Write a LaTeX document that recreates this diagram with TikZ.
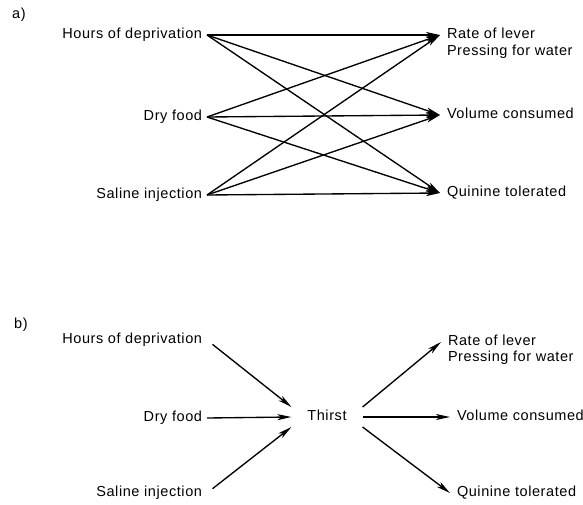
\documentclass[tikz,border=0pt]{standalone}
\usepackage{fontspec}
\setmainfont{Liberation Sans}[LetterSpace=4]
\usetikzlibrary{arrows.meta}
\tikzstyle{cause}=[anchor=east,inner sep=3pt,outer sep=2pt,text height=10.5pt,text depth=3pt]
\tikzstyle{effect}=[anchor=west,inner sep=3pt,outer sep=4pt,text height=10.5pt,text depth=3pt]
\tikzstyle{hub}=[inner xsep=3pt,inner ysep=3pt,minimum height=20pt,outer xsep=13pt,outer ysep=0pt,text height=10.5pt,text depth=3pt]
\tikzstyle{tag}=[anchor=west,inner sep=0pt]
\tikzstyle{link} = [draw,line width=1.35pt,-{Stealth[length=14pt,width=6pt,inset=3.5pt]}]

\begin{document}
\begin{tikzpicture}[x=1pt,y=-1pt,font=\fontsize{14.5}{17}\selectfont]
    \useasboundingbox (0,0) rectangle (583,505);
    % a) every cause goes straight to every measure
    \node[tag] (a) at (12,15) {a)};
    \foreach \pos/\name/\txt in {{(207,35)/hrsA/Hours of deprivation}, {(207,117)/dryA/Dry food}, {(207,195)/salA/Saline injection}}
        \node[cause] (\name) at \pos {\txt};
    \foreach \pos/\name/\txt in {{(440,35)/rateA/Rate of lever}, {(440,115)/volA/Volume consumed}, {(440,193)/quiA/Quinine tolerated}}
        \node[effect] (\name) at \pos {\txt};
    \node[effect] (pressA) at (440,52) {Pressing for water};
    \foreach \source in {hrsA, dryA, salA}
        \foreach \dest in {rateA, volA, quiA}
            \path[link] (\source.east) -- (\dest.west);

    % b) the causes meet in one node
    \node[tag] (b) at (14,325) {b)};
    \foreach \pos/\name/\txt in {{(207,340)/hrsB/Hours of deprivation}, {(207,418)/dryB/Dry food}, {(207,493)/salB/Saline injection}}
        \node[cause] (\name) at \pos {\txt};
    \node[hub] (thirst) at (327,417) {Thirst};
    \foreach \pos/\name/\txt in {{(441,342)/rateB/Rate of lever}, {(450,417)/volB/Volume consumed}, {(450,493)/quiB/Quinine tolerated}}
        \node[effect] (\name) at \pos {\txt};
    \node[effect] (pressB) at (441,358) {Pressing for water};
    \path[link, shorten <=7pt] (hrsB.east) -- (thirst.north west);
    \path[link] (dryB.east) -- (thirst.west);
    \path[link, shorten <=7pt] (salB.east) -- (thirst.south west);
    \foreach \anc/\dest in {north east/rateB, east/volB, south east/quiB}
        \path[link] (thirst.\anc) -- (\dest.west);

\end{tikzpicture}
\end{document}
